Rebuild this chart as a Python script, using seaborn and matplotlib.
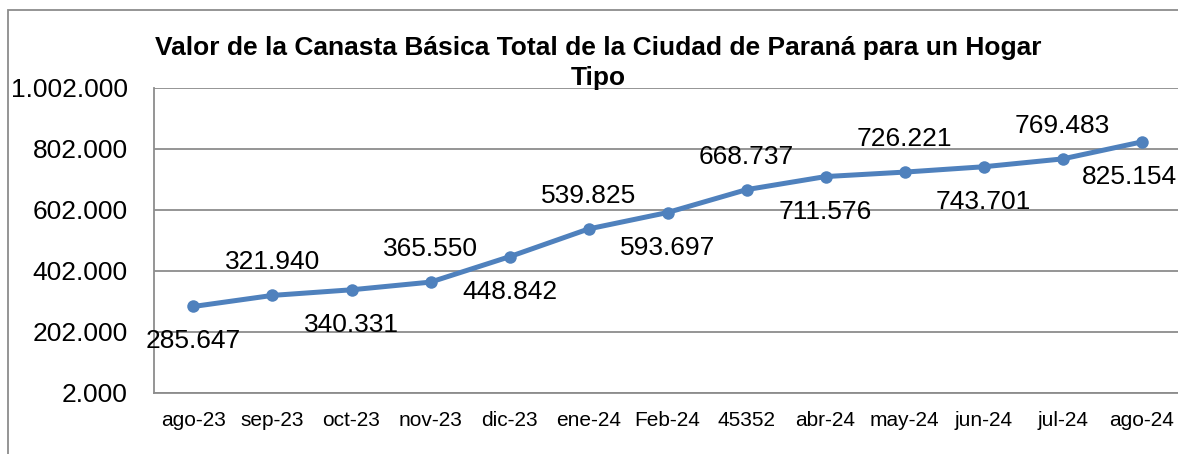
import pandas as pd
import matplotlib.pyplot as plt
import matplotlib.patches as patches
import seaborn as sns

# Datos
meses = ['ago-23', 'sep-23', 'oct-23', 'nov-23', 'dic-23', 'ene-24', 'Feb-24',
         '45352', 'abr-24', 'may-24', 'jun-24', 'jul-24', 'ago-24']
valores = [285647, 321940, 340331, 365550, 448842, 539825, 593697,
           668737, 711576, 726221, 743701, 769483, 825154]
etiquetas = ['285.647', '321.940', '340.331', '365.550', '448.842', '539.825', '593.697',
             '668.737', '711.576', '726.221', '743.701', '769.483', '825.154']
ticks_y = [2000, 202000, 402000, 602000, 802000, 1002000]
ticks_y_txt = ['2.000', '202.000', '402.000', '602.000', '802.000', '1.002.000']

df = pd.DataFrame({'mes': meses, 'valor': valores})
df['pos'] = range(len(df))

sns.set_style("white")
plt.rcParams['font.family'] = ['Liberation Sans', 'DejaVu Sans']
plt.rcParams['text.color'] = 'black'
plt.rcParams['xtick.color'] = 'black'
plt.rcParams['ytick.color'] = 'black'

fig = plt.figure(figsize=(11.78, 4.54), dpi=100)
ax = fig.add_axes([0.1307, 0.1344, 0.872, 0.6718])

color = '#4F81BD'
sns.lineplot(data=df, x='pos', y='valor', ax=ax, color=color, linewidth=3.6,
             marker='o', markersize=9, markeredgewidth=0, zorder=3)

# etiquetas de datos: alternan abajo / arriba
for i, (v, t) in enumerate(zip(valores, etiquetas)):
    dy = -35 if i % 2 == 0 else 33
    dx = -12 if i == len(valores) - 1 else 0
    ax.annotate(t, (i, v), xytext=(dx, dy), textcoords='offset pixels',
                ha='center', va='center', fontsize=19, color='black', zorder=4,
                annotation_clip=False)

ax.set_xlim(-0.5, len(meses) - 0.5)
ax.set_ylim(2000, 1002000)
ax.set_xticks(range(len(meses)))
ax.set_xticklabels(meses, fontsize=15)
ax.set_yticks(ticks_y)
ax.set_yticklabels(ticks_y_txt, fontsize=19)
ax.set_xlabel('')
ax.set_ylabel('')
ax.tick_params(axis='x', length=0, pad=13)
ax.tick_params(axis='y', length=0, pad=19)

ax.grid(axis='y', color='#8c8c8c', linewidth=1.3)
ax.set_axisbelow(True)
for s in ['top', 'right']:
    ax.spines[s].set_visible(False)
for s in ['left', 'bottom']:
    ax.spines[s].set_color('#8c8c8c')
    ax.spines[s].set_linewidth(1.3)

fig.text(0.508, 0.862, 'Valor de la Canasta Básica Total de la Ciudad de Paraná para un Hogar\nTipo',
         ha='center', va='center', fontsize=19, fontweight='bold', linespacing=1.3,
         color='black')

# borde del área del gráfico
fig.patches.append(patches.Rectangle((8 / 1178, -0.5), 2, 0.5 + 1 - 10 / 454,
                                     transform=fig.transFigure, fill=False,
                                     edgecolor='#8c8c8c', linewidth=1.3))

plt.savefig('out.png', dpi=100)
